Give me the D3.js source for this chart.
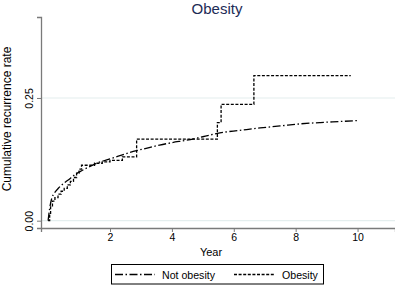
<!DOCTYPE html>
<html><head><meta charset="utf-8">
<script src="https://cdn.jsdelivr.net/npm/d3@7"></script>
<style>body{margin:0;background:#fff}svg{display:block}text{font-family:"Liberation Sans",Arial,Helvetica,sans-serif}</style>
</head><body>
<svg id="c" width="395" height="285"></svg>
<script>
// Data
const title = "Obesity";
const xTicks = [2, 4, 6, 8, 10];
const yTicks = [0, 0.25];
const yTickLabels = ["0.00", "0.25"];
const seriesNames = ["Not obesity", "Obesity"];
// Not obesity: smooth cumulative curve (year, rate)
const notObesityT = [0, 0.05, 0.12, 0.2, 0.33, 0.5, 0.65, 0.85, 1.03, 1.3, 1.57, 2.0, 2.4, 2.75, 3.2, 3.6, 4.0, 4.48, 5.0, 5.55, 6.2, 6.85, 7.5, 8.1, 8.8, 9.4, 10.0];
const notObesityV = [0, 0.025, 0.046, 0.056, 0.066, 0.076, 0.083, 0.093, 0.100, 0.109, 0.117, 0.126, 0.134, 0.141, 0.148, 0.154, 0.159, 0.164, 0.171, 0.179, 0.184, 0.189, 0.193, 0.197, 0.200, 0.202, 0.204];
// Obesity: Kaplan-Meier style step curve
const obesityT = [0, 0.05, 0.08, 0.14, 0.22, 0.32, 0.42, 0.52, 0.62, 0.72, 0.82, 0.92, 1.0, 1.08, 1.5, 1.75, 2.0, 2.4, 2.86, 5.47, 5.59, 6.65, 9.78];
const obesityV = [0, 0.015, 0.03, 0.04, 0.047, 0.054, 0.06, 0.066, 0.073, 0.08, 0.088, 0.097, 0.105, 0.113, 0.117, 0.12, 0.123, 0.13, 0.166, 0.20, 0.237, 0.2955, 0.2955];

const svg = d3.select("#c");
const x = d3.scaleLinear().domain([-0.23, 11.21]).range([41, 395]);
const y = d3.scaleLinear().domain([-0.0149, 0.415]).range([228, 17]);

// gridlines
svg.append("g").selectAll("line").data(yTicks).join("line")
  .attr("x1", 41).attr("x2", 395)
  .attr("y1", d => y(d)).attr("y2", d => y(d))
  .attr("stroke", "#e4eeee").attr("stroke-width", 1.2);

// axes
const xAxis = svg.append("g").attr("transform", "translate(0,228)")
  .call(d3.axisBottom(x).tickValues(xTicks).tickSize(4).tickPadding(2).tickFormat(d3.format("d")));
const yAxis = svg.append("g").attr("transform", "translate(41,0)")
  .call(d3.axisLeft(y).tickValues(yTicks).tickSize(4).tickFormat((d, i) => yTickLabels[i]));
[xAxis, yAxis].forEach(g => {
  g.select(".domain").attr("stroke", "#7a7a7a").attr("stroke-width", 1.3);
  g.selectAll(".tick line").attr("stroke", "#7a7a7a").attr("stroke-width", 1);
});
xAxis.selectAll(".tick text").attr("font-size", 10.5).attr("fill", "#000")
  .attr("font-family", "Liberation Sans, Arial, sans-serif");
yAxis.selectAll(".tick text").attr("font-size", 10.5).attr("fill", "#000")
  .attr("font-family", "Liberation Sans, Arial, sans-serif")
  .attr("text-anchor", "middle").attr("x", null).attr("dy", null)
  .attr("transform", "translate(-8,0) rotate(-90)");

// lines
const notData = notObesityT.map((t, i) => [t, notObesityV[i]]);
const obData = obesityT.map((t, i) => [t, obesityV[i]]);
svg.append("path").datum(notData)
  .attr("fill", "none").attr("stroke", "#000").attr("stroke-width", 1.3)
  .attr("stroke-dasharray", "8,2.5,1.5,2.5")
  .attr("d", d3.line().x(d => x(d[0])).y(d => y(d[1])).curve(d3.curveMonotoneX));
svg.append("path").datum(obData)
  .attr("fill", "none").attr("stroke", "#000").attr("stroke-width", 1.3)
  .attr("stroke-dasharray", "3,1.6")
  .attr("d", d3.line().x(d => x(d[0])).y(d => y(d[1])).curve(d3.curveStepAfter));

// title
svg.append("text").attr("x", 217).attr("y", 14).attr("text-anchor", "middle")
  .attr("font-size", 15).attr("fill", "#1c2b56").text(title);
// axis titles
svg.append("text").attr("x", 211).attr("y", 255.5).attr("text-anchor", "middle")
  .attr("font-size", 11).attr("fill", "#000").text("Year");
svg.append("text").attr("transform", "translate(11,119) rotate(-90)")
  .attr("text-anchor", "middle").attr("font-size", 12).attr("fill", "#000")
  .text("Cumulative recurrence rate");

// legend
const lg = svg.append("g");
lg.append("rect").attr("x", 111.5).attr("y", 264.5).attr("width", 212).attr("height", 19.5)
  .attr("fill", "#fff").attr("stroke", "#000").attr("stroke-width", 1);
const items = [
  {name: seriesNames[0], x1: 115, x2: 155, tx: 162, dash: "8,2.5,1.5,2.5"},
  {name: seriesNames[1], x1: 234, x2: 274, tx: 282, dash: "3,1.6"}
];
items.forEach(it => {
  lg.append("line").attr("x1", it.x1).attr("x2", it.x2).attr("y1", 274.5).attr("y2", 274.5)
    .attr("stroke", "#000").attr("stroke-width", 1.3).attr("stroke-dasharray", it.dash);
  lg.append("text").attr("x", it.tx).attr("y", 278.5).attr("font-size", 10.6)
    .attr("fill", "#000").text(it.name);
});
</script>
</body></html>
